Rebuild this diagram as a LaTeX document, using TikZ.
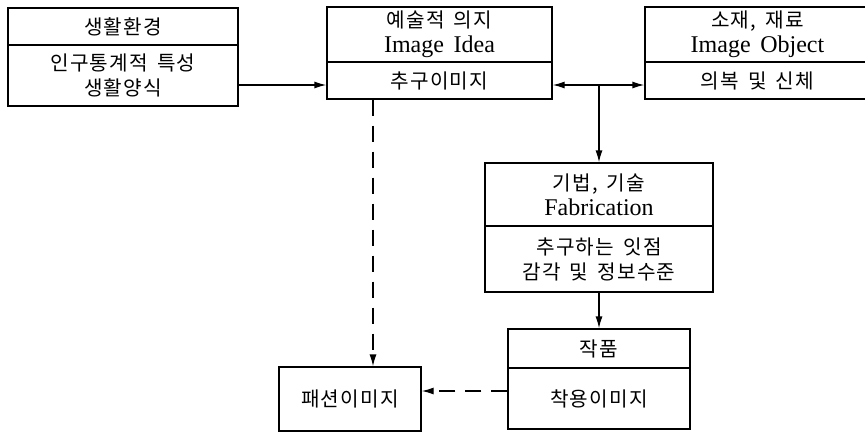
\documentclass[tikz,border=0pt]{standalone}
\usepackage{fontspec}
\setmainfont{Liberation Serif}[WordSpace=1.6]
\newfontfamily\kr{Noto Sans CJK KR}[Scale=0.84,LetterSpace=6,WordSpace=1.6]
\usetikzlibrary{arrows.meta}
\begin{document}
\begin{tikzpicture}[x=1pt,y=-1pt,
  part/.style={draw,line width=1.3pt,rectangle,inner sep=0pt,align=center,
    font=\fontsize{24}{25}\selectfont},
  link/.style={line width=1.3pt,-{Latex[length=12pt,width=7pt]}},
  dlink/.style={link,dash pattern=on 16pt off 10pt}]
\useasboundingbox (0,0) rectangle (865,432);
% box 1
\node[part,minimum width=230pt,minimum height=37pt] (b1t) at (123,26.5) {\kr 생활환경};
\node[part,minimum width=230pt,minimum height=61pt] (b1b) at (123,75.5) {\kr 인구통계적 특성\\\kr 생활양식};
% box 2
\node[part,minimum width=225pt,minimum height=55pt] (b2t) at (439.5,34.5) {\kr 예술적 의지\\Image Idea};
\node[part,minimum width=225pt,minimum height=37pt] (b2b) at (439.5,80.5) {\kr 추구이미지};
% box 3
\node[part,minimum width=225pt,minimum height=55pt] (b3t) at (757.5,34.5) {\kr 소재, 재료\\Image Object};
\node[part,minimum width=225pt,minimum height=37pt] (b3b) at (757.5,80.5) {\kr 의복 및 신체};
% box 4
\node[part,minimum width=228pt,minimum height=63pt] (b4t) at (599,194.5) {\kr 기법, 기술\\Fabrication};
\node[part,minimum width=228pt,minimum height=66pt] (b4b) at (599,259) {\kr 추구하는 잇점\\\kr 감각 및 정보수준};
% box 5
\node[part,minimum width=182pt,minimum height=39pt] (b5t) at (599,348.5) {\kr 작품};
\node[part,minimum width=182pt,minimum height=61pt] (b5b) at (599,398.5) {\kr 착용이미지};
% box 6
\node[part,minimum width=142pt,minimum height=64pt] (b6) at (350,399) {\kr 패션이미지};
% helper coordinates
\coordinate (j) at (599,85);
\coordinate (d) at (373,0);
\coordinate (h) at (0,391);
% connectors
\draw[link] (b1b.east |- j) -- (b2b.west |- j);
\draw[link] (j) -- (b2b.east |- j);
\draw[link] (j) -- (b3b.west |- j);
\draw[link] (j) -- (b4t.north);
\draw[link] (b4b.south) -- (b5t.north);
\draw[dlink] (b2b.south -| d) -- (b6.north -| d);
\draw[dlink] (b5b.west |- h) -- (b6.east |- h);
\end{tikzpicture}
\end{document}
